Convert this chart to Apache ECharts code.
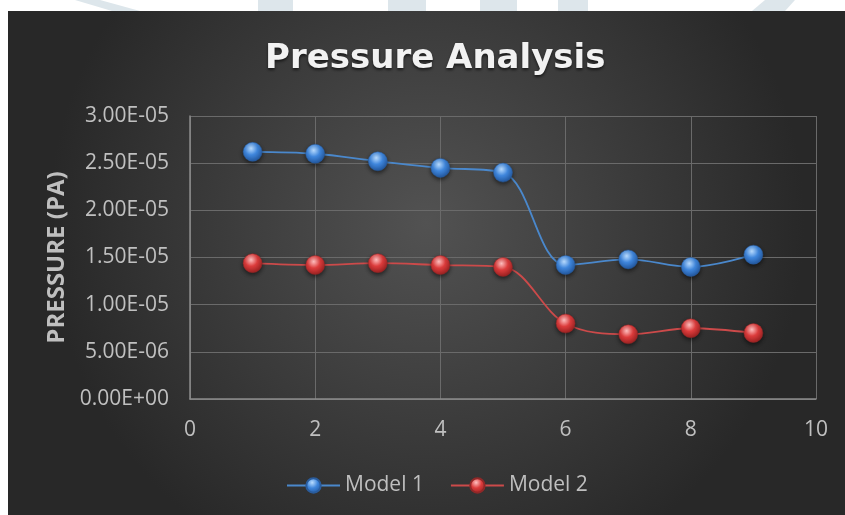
<!DOCTYPE html>
<html>
<head>
<meta charset="utf-8">
<script src="https://cdn.jsdelivr.net/npm/echarts@6/dist/echarts.min.js"></script>
<style>
html,body{margin:0;padding:0;background:#ffffff;}
#chart{width:845px;height:515px;}
</style>
</head>
<body>
<div id="chart"></div>
<script>
const xValues = [1, 2, 3, 4, 5, 6, 7, 8, 9];
const model1 = [2.62e-5, 2.60e-5, 2.52e-5, 2.45e-5, 2.40e-5, 1.42e-5, 1.48e-5, 1.40e-5, 1.53e-5];
const model2 = [1.44e-5, 1.42e-5, 1.44e-5, 1.42e-5, 1.40e-5, 0.80e-5, 0.686e-5, 0.75e-5, 0.70e-5];
const seriesNames = ['Model 1', 'Model 2'];
const yTickLabels = ['0.00E+00', '5.00E-06', '1.00E-05', '1.50E-05', '2.00E-05', '2.50E-05', '3.00E-05'];
const xTickLabels = ['0', '2', '4', '6', '8', '10'];

const chart = echarts.init(document.getElementById('chart'), null, {renderer: 'canvas'});

function sphere(light, mid, dark) {
  return {
    type: 'radial', x: 0.42, y: 0.32, r: 0.75,
    colorStops: [
      {offset: 0, color: light},
      {offset: 0.45, color: mid},
      {offset: 1, color: dark}
    ]
  };
}
const blueBall = sphere('#b9dcff', '#3f86dc', '#1d4f94');
const redBall = sphere('#ffc0c0', '#dc3c3c', '#8f1c1c');

function pts(vals) { return xValues.map((x, i) => [x, vals[i]]); }

const wm = '#dde6eb';
const option = {
  backgroundColor: '#ffffff',
  animation: false,
  graphic: [
    {type: 'polygon', shape: {points: [[75,0],[100,0],[140,11],[112,11]]}, style: {fill: wm}, z: -10},
    {type: 'rect', shape: {x: 258, y: 0, width: 35, height: 11}, style: {fill: wm}, z: -10},
    {type: 'rect', shape: {x: 388, y: 0, width: 38, height: 11}, style: {fill: wm}, z: -10},
    {type: 'rect', shape: {x: 480, y: 0, width: 37, height: 11}, style: {fill: wm}, z: -10},
    {type: 'rect', shape: {x: 558, y: 0, width: 30, height: 11}, style: {fill: wm}, z: -10},
    {type: 'polygon', shape: {points: [[765,0],[795,0],[785,11],[752,11]]}, style: {fill: wm}, z: -10},
    {
      type: 'rect', z: -5,
      shape: {x: 8, y: 11, width: 837, height: 504},
      style: {
        fill: {
          type: 'radial', x: 0.5, y: 0.42, r: 0.75,
          colorStops: [
            {offset: 0, color: '#525252'},
            {offset: 1, color: '#282828'}
          ]
        }
      }
    }
  ],
  title: {
    text: 'Pressure Analysis',
    left: 260,
    top: 37,
    textStyle: {
      fontFamily: 'DejaVu Sans',
      fontWeight: 'bold',
      fontSize: 34,
      color: '#f2f2f2',
      textShadowColor: 'rgba(0,0,0,0.6)',
      textShadowBlur: 3,
      textShadowOffsetY: 2
    }
  },
  grid: {left: 190, right: 29, top: 116, bottom: 116, containLabel: false},
  legend: {
    bottom: 14,
    left: 281,
    itemWidth: 53,
    itemHeight: 18,
    itemGap: 26,
    data: seriesNames,
    textStyle: {color: '#bfbfbf', fontSize: 21, fontFamily: 'Open Sans'}
  },
  xAxis: {
    type: 'value',
    min: 0, max: 10, interval: 2,
    axisLine: {show: true, lineStyle: {color: '#8c8c8c', width: 1.5}},
    axisTick: {show: false},
    splitLine: {show: true, lineStyle: {color: '#6a6a6a', width: 1}},
    axisLabel: {
      color: '#c0c0c0', fontSize: 21, fontFamily: 'Open Sans', margin: 21,
      formatter: function (v) { return xTickLabels[Math.round(v / 2)]; }
    }
  },
  yAxis: {
    type: 'value',
    min: 0, max: 3e-5, interval: 5e-6,
    name: 'PRESSURE (PA)',
    nameLocation: 'middle',
    nameGap: 120,
    nameRotate: 90,
    nameTextStyle: {color: '#bfbfbf', fontSize: 24, fontWeight: 'bold', fontFamily: 'Open Sans'},
    axisLine: {show: true, lineStyle: {color: '#8c8c8c', width: 1.5}},
    axisTick: {show: false},
    splitLine: {show: true, lineStyle: {color: '#6a6a6a', width: 1}},
    axisLabel: {
      color: '#c0c0c0', fontSize: 21, fontFamily: 'Open Sans', margin: 21,
      formatter: function (v) { return yTickLabels[Math.round(v / 5e-6)]; }
    }
  },
  series: [
    {
      name: seriesNames[0], type: 'line', smooth: 0.35,
      data: pts(model1),
      symbol: 'circle', symbolSize: 19,
      lineStyle: {color: '#4a88cc', width: 1.8},
      itemStyle: {color: blueBall, borderColor: '#2a5c9c', borderWidth: 0.5,
        shadowColor: 'rgba(0,0,0,0.55)', shadowBlur: 4, shadowOffsetY: 2},
      z: 3
    },
    {
      name: seriesNames[1], type: 'line', smooth: 0.35,
      data: pts(model2),
      symbol: 'circle', symbolSize: 19,
      lineStyle: {color: '#cc4a4a', width: 1.8},
      itemStyle: {color: redBall, borderColor: '#902828', borderWidth: 0.5,
        shadowColor: 'rgba(0,0,0,0.55)', shadowBlur: 4, shadowOffsetY: 2},
      z: 3
    }
  ]
};
chart.setOption(option);
</script>
</body>
</html>
